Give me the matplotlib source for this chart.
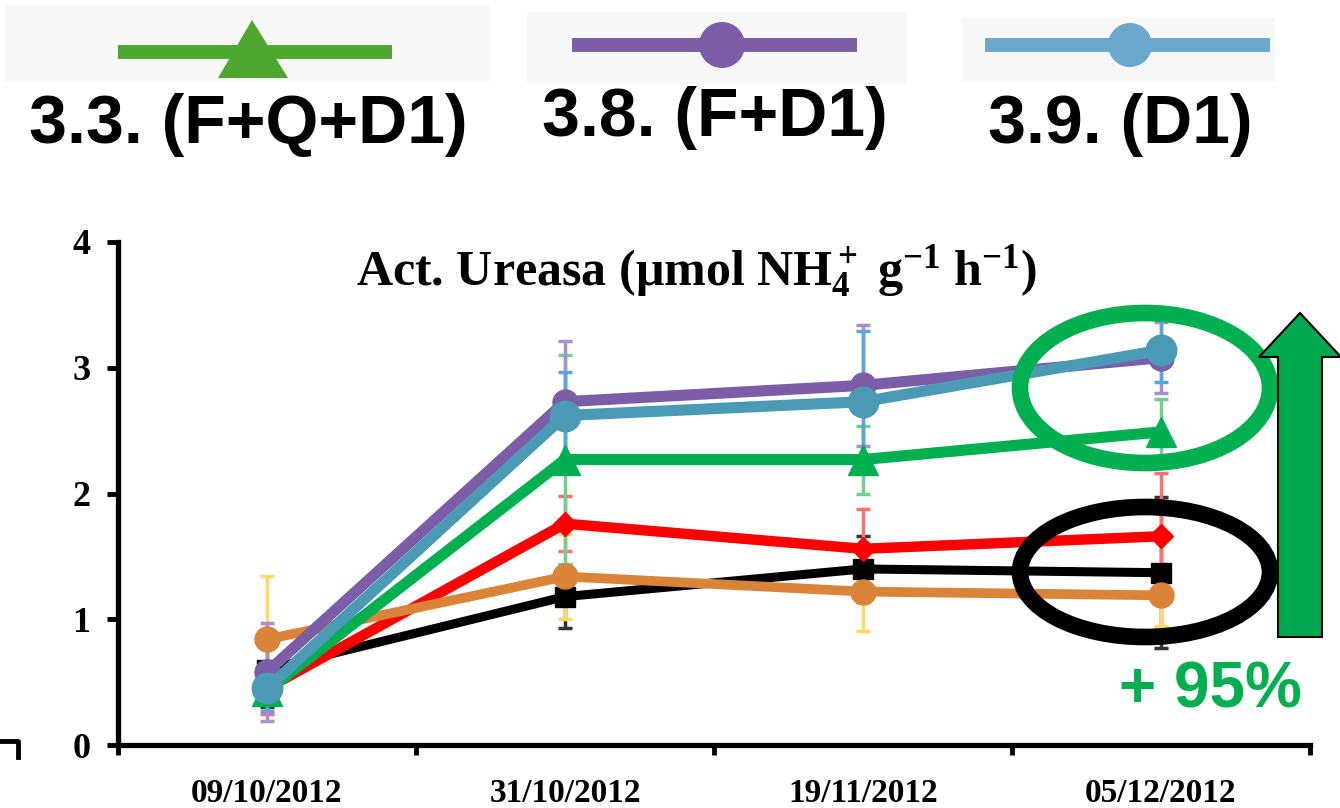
import matplotlib
matplotlib.use('Agg')
import matplotlib.pyplot as plt
from matplotlib import patches
from matplotlib.lines import Line2D

plt.rcParams['font.family'] = ['Liberation Serif', 'DejaVu Serif']
plt.rcParams['mathtext.fontset'] = 'custom'
plt.rcParams['mathtext.rm'] = 'Liberation Serif:bold'
plt.rcParams['mathtext.it'] = 'Liberation Serif:bold'
plt.rcParams['mathtext.bf'] = 'Liberation Serif:bold'

fechas = ['09/10/2012', '31/10/2012', '19/11/2012', '05/12/2012']

# medias (umol NH4+ g-1 h-1)
negro = [0.60, 1.18, 1.40, 1.37]
rojo = [0.45, 1.76, 1.56, 1.66]
naranja = [0.84, 1.34, 1.22, 1.19]
verde = [0.43, 2.27, 2.27, 2.49]
morado = [0.58, 2.73, 2.86, 3.08]
azul = [0.45, 2.62, 2.73, 3.14]

# desviaciones
err_negro = [0.30, 0.25, 0.26, 0.60]
err_rojo = [0.20, 0.22, 0.32, 0.50]
err_naranja = [0.50, 0.34, 0.31, 0.24]
err_verde = [0.10, 0.83, 0.27, 0.26]
err_morado = [0.39, 0.48, 0.48, 0.28]
err_azul = [0.18, 0.35, 0.56, 0.25]

etiquetas = ['3.3. (F+Q+D1)', '3.8. (F+D1)', '3.9. (D1)']

W, H = 1340, 808
fig = plt.figure(figsize=(W / 100, H / 100), dpi=100)
ax = fig.add_axes([118 / W, 1 - 745 / H, (1310 - 118) / W, (745 - 242) / H])

x = list(range(len(fechas)))
series = [
    (negro, err_negro, '#000000', '#333333', 's', 15, 6.5),
    (rojo, err_rojo, '#ff0000', '#ff7070', 'D', 12, 7.5),
    (naranja, err_naranja, '#d98438', '#ffd966', 'o', 18, 7.0),
    (verde, err_verde, '#00b050', '#6fd08f', '^', 21, 8.0),
    (morado, err_morado, '#7b5ea7', '#a98fd0', 'o', 18, 8.0),
    (azul, err_azul, '#4a9ab5', '#5aa5e0', 'o', 22, 8.0),
]
for i, (vals, errs, col, ecol, mk, ms, lw) in enumerate(series):
    ax.errorbar(x, vals, yerr=errs, fmt='none', ecolor=ecol, elinewidth=2.5,
                capsize=5, capthick=2.5, zorder=2 + i)
    ax.plot(x, vals, color=col, lw=lw, marker=mk, markersize=ms,
            markeredgecolor=col, zorder=10 + i)

ax.set_xlim(-0.5, 3.5)
ax.set_ylim(0, 4)
ax.set_yticks([0, 1, 2, 3, 4])
ax.set_xticks(x)
ax.set_xticklabels(fechas, fontsize=24, fontweight='bold')
ax.set_xticks([-0.5, 0.5, 1.5, 2.5, 3.5], minor=True)
ax.tick_params(axis='x', which='major', length=0, pad=24)
ax.tick_params(axis='x', which='minor', length=7, width=3.5, direction='out')
ax.tick_params(axis='y', length=8, width=3.5, direction='out', labelsize=26, pad=12)
for t in ax.get_yticklabels():
    t.set_fontweight('bold')
for s in ['top', 'right']:
    ax.spines[s].set_visible(False)
for s in ['left', 'bottom']:
    ax.spines[s].set_linewidth(3.8)
ax.text(0.485, 0.94, r'Act. Ureasa ($\mu$mol NH$_4^+$ g$^{-1}$ h$^{-1}$)',
        transform=ax.transAxes, fontsize=36, fontweight='bold',
        ha='center', va='center')

# capa de anotaciones en pixeles
ov = fig.add_axes([0, 0, 1, 1], zorder=5)
ov.set_xlim(0, W)
ov.set_ylim(H, 0)
ov.axis('off')

ov.add_patch(patches.Ellipse((1145, 388), 250, 150, fill=False, ec='#00b050', lw=12))
ov.add_patch(patches.Ellipse((1145, 572), 250, 130, fill=False, ec='#000000', lw=12))
ov.add_patch(patches.FancyArrow(1300, 637, 0, -324, width=44, head_width=82,
                                head_length=44, length_includes_head=True,
                                fc='#00a84f', ec='black', lw=1.5))
ov.text(1210, 690, '+ 95%', color='#00b050', fontsize=46, fontweight='bold',
        family='Liberation Sans', ha='center', va='center')

# marca suelta abajo a la izquierda
ov.add_line(Line2D([0, 18, 18], [741, 741, 757], color='black', lw=3.5))

# leyenda (imagen pegada arriba)
ov.add_patch(patches.Rectangle((5, 5), 485, 77, fc='#f8f8f8', ec='none'))
ov.add_patch(patches.Rectangle((527, 12), 380, 73, fc='#f8f8f8', ec='none'))
ov.add_patch(patches.Rectangle((962, 18), 313, 64, fc='#f8f8f8', ec='none'))
ov.add_line(Line2D([118, 392], [52, 52], color='#4ea72e', lw=10, solid_capstyle='butt'))
ov.add_patch(patches.Polygon([(218, 78), (252, 20), (288, 78)], fc='#4ea72e', ec='none'))
ov.add_line(Line2D([572, 857], [45, 45], color='#7b5ea7', lw=10, solid_capstyle='butt'))
ov.add_patch(patches.Circle((722, 45), 23, fc='#7b5ea7', ec='none'))
ov.add_line(Line2D([985, 1270], [45, 45], color='#6aa8cc', lw=10, solid_capstyle='butt'))
ov.add_patch(patches.Circle((1130, 45), 22, fc='#6aa8cc', ec='none'))
for cx, cy, lab in zip([248, 715, 1120], [125, 118, 125], etiquetas):
    ov.text(cx, cy, lab, fontsize=49, fontweight='bold', family='Liberation Sans',
            ha='center', va='center')

fig.savefig('out.png', dpi=100)
